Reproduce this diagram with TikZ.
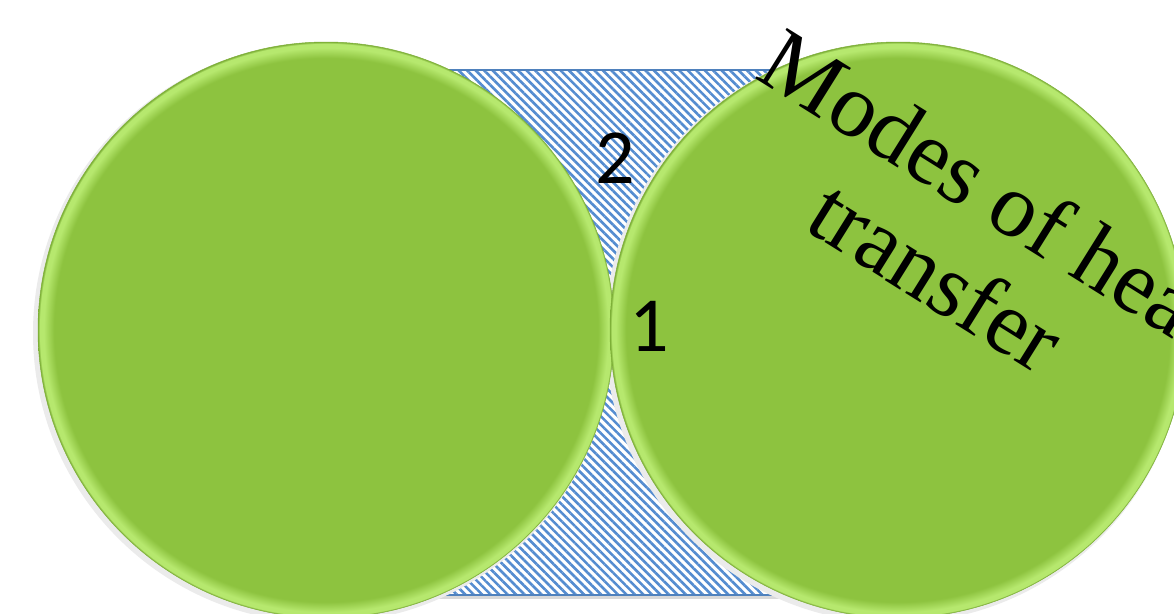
\documentclass[tikz,border=0pt]{standalone}
\usepackage{fontspec}
\usetikzlibrary{patterns.meta}
\newfontfamily\digitfont{Carlito}
\newfontfamily\titlefont{Liberation Serif}
\definecolor{gbase}{RGB}{141,195,63}
\definecolor{glight}{RGB}{182,232,110}
\definecolor{gedge}{RGB}{125,175,55}
\definecolor{hatchblue}{RGB}{84,140,208}
\definecolor{bandedge}{RGB}{79,129,189}
\pgfdeclareradialshading{bevelgreen}{\pgfpoint{0bp}{0bp}}{%
  color(0bp)=(gbase); color(23.6bp)=(gbase); color(24.5bp)=(glight);
  color(24.85bp)=(glight); color(25bp)=(gedge); color(50bp)=(gedge)}
\tikzset{
  disc/.style={circle, minimum size=576pt, inner sep=0pt, draw=gedge,
    line width=0.5pt, shading=bevelgreen},
  hatchbox/.style={draw=bandedge, line width=1.4pt,
    pattern={Lines[angle=-45, distance=6pt, line width=2.6pt]},
    pattern color=hatchblue},
  digit/.style={font=\digitfont\fontsize{78}{80}\selectfont, inner sep=0pt},
  title/.style={font=\titlefont\fontsize{91}{102}\selectfont, align=center, inner sep=0pt}
}
\begin{document}
\begin{tikzpicture}[x=1pt, y=-1pt]
  \useasboundingbox (0,0) rectangle (1174,613);
  \clip (0,0) rectangle (1174,613);
  \fill[white] (0,0) rectangle (1174,613);
  % soft shadow under the band
  \fill[black!15] (334,596) rectangle (893,599);
  % hatched band joining the two discs
  \draw[hatchbox] (330,70) rectangle (895,595);
  % shadows of the discs
  \fill[black!8] (323,333) circle[radius=290pt];
  \fill[black!8] (895,333) circle[radius=290pt];
  % the two discs
  \node[disc] (left)  at (326,330) {};
  \node[disc] (right) at (898,330) {};
  % labels
  \node[digit] (two) at (615,158) {2};
  \node[digit] (one) at (649,326) {1};
  \node[title, rotate=-32] (modes) at (964,232) {Modes of heat\\transfer};
\end{tikzpicture}
\end{document}
